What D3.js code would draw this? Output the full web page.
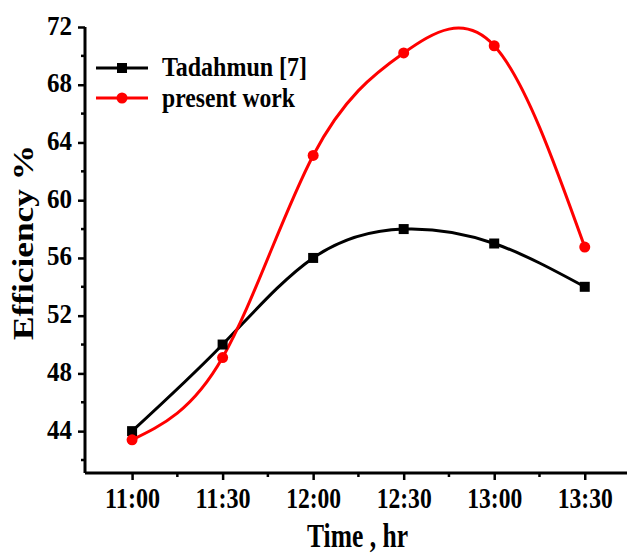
<!DOCTYPE html>
<html>
<head>
<meta charset="utf-8">
<script src="https://cdn.jsdelivr.net/npm/d3@7"></script>
<style>
  body { margin: 0; background: #fff; }
  svg text { font-family: "Liberation Serif", "Times New Roman", serif; font-weight: bold; }
</style>
</head>
<body>
<svg id="chart" width="627" height="555"></svg>
<script>
// minutes after 11:00
const times = [0, 30, 60, 90, 120, 150];
const timeLabels = ['11:00', '11:30', '12:00', '12:30', '13:00', '13:30'];
const tadahmun = [44, 50, 56, 58, 57, 54];
const presentWork = [43.4, 49.1, 63.1, 70.2, 70.7, 56.75];
const yTicks = [44, 48, 52, 56, 60, 64, 68, 72];
const yMinor = [42, 46, 50, 54, 58, 62, 66, 70];
const xMinor = [15, 45, 75, 105, 135];

const svg = d3.select('#chart');

const x = d3.scaleLinear().domain([-15.6, 164]).range([85, 627]);
const y = d3.scaleLinear().domain([41.1, 72]).range([473, 27]);

// axes
const xAxis = d3.axisBottom(x)
  .tickValues(times)
  .tickFormat((d, i) => timeLabels[i])
  .tickSize(7);
const yAxis = d3.axisLeft(y)
  .tickValues(yTicks)
  .tickSize(7);

const gx = svg.append('g').attr('transform', 'translate(0,473)').call(xAxis);
const gy = svg.append('g').attr('transform', 'translate(85,0)').call(yAxis);

[gx, gy].forEach((g) => {
  g.select('.domain').attr('stroke', '#000').attr('stroke-width', 3);
  g.selectAll('.tick line').attr('stroke', '#000').attr('stroke-width', 2.5);
  g.selectAll('.tick text')
    .attr('fill', '#000')
    .style('font-family', '"Liberation Serif", serif')
    .style('font-weight', 'bold');
});
gx.select('.domain').attr('d', 'M85,0H627');
gy.select('.domain').attr('d', 'M0,' + y(72) + 'V473');

// narrow, tall tick labels
gx.selectAll('.tick text')
  .style('font-size', '30px')
  .attr('y', 35).attr('dy', 0)
  .attr('textLength', 55).attr('lengthAdjust', 'spacingAndGlyphs');
gy.selectAll('.tick text')
  .style('font-size', '28px')
  .attr('x', -13).attr('dy', 7)
  .attr('textLength', 25).attr('lengthAdjust', 'spacingAndGlyphs');

// minor ticks
svg.append('g').selectAll('line').data(xMinor).enter().append('line')
  .attr('x1', (d) => x(d)).attr('x2', (d) => x(d))
  .attr('y1', 473).attr('y2', 477)
  .attr('stroke', '#000').attr('stroke-width', 2.5);
svg.append('g').selectAll('line').data(yMinor).enter().append('line')
  .attr('x1', 81).attr('x2', 85)
  .attr('y1', (d) => y(d)).attr('y2', (d) => y(d))
  .attr('stroke', '#000').attr('stroke-width', 2.5);

// axis titles
svg.append('text')
  .attr('x', 307).attr('y', 547)
  .style('font-size', '33px')
  .attr('textLength', 101).attr('lengthAdjust', 'spacingAndGlyphs')
  .text('Time , hr');
svg.append('text')
  .attr('transform', 'translate(33,340) rotate(-90)')
  .style('font-size', '30px')
  .attr('textLength', 195).attr('lengthAdjust', 'spacingAndGlyphs')
  .text('Efficiency %');

// series
const line = (vals) => d3.line()
  .x((d, i) => x(times[i]))
  .y((d) => y(d))
  .curve(d3.curveNatural)(vals);

svg.append('path')
  .attr('d', line(tadahmun))
  .attr('fill', 'none').attr('stroke', '#000').attr('stroke-width', 3);
svg.append('path')
  .attr('d', line(presentWork))
  .attr('fill', 'none').attr('stroke', '#ff0000').attr('stroke-width', 3);

svg.append('g').selectAll('rect').data(tadahmun).enter().append('rect')
  .attr('x', (d, i) => x(times[i]) - 5)
  .attr('y', (d) => y(d) - 5)
  .attr('width', 10).attr('height', 10)
  .attr('fill', '#000');
svg.append('g').selectAll('circle').data(presentWork).enter().append('circle')
  .attr('cx', (d, i) => x(times[i]))
  .attr('cy', (d) => y(d))
  .attr('r', 5.5)
  .attr('fill', '#ff0000');

// legend
const legend = svg.append('g');
legend.append('line').attr('x1', 96).attr('x2', 148).attr('y1', 68).attr('y2', 68)
  .attr('stroke', '#000').attr('stroke-width', 3);
legend.append('rect').attr('x', 117).attr('y', 63).attr('width', 10).attr('height', 10).attr('fill', '#000');
legend.append('text').attr('x', 162).attr('y', 76).style('font-size', '28px')
  .attr('textLength', 145).attr('lengthAdjust', 'spacingAndGlyphs')
  .text('Tadahmun [7]');
legend.append('line').attr('x1', 96).attr('x2', 148).attr('y1', 98).attr('y2', 98)
  .attr('stroke', '#ff0000').attr('stroke-width', 3);
legend.append('circle').attr('cx', 122).attr('cy', 98).attr('r', 5.5).attr('fill', '#ff0000');
legend.append('text').attr('x', 162).attr('y', 107).style('font-size', '28px')
  .attr('textLength', 133).attr('lengthAdjust', 'spacingAndGlyphs')
  .text('present work');
</script>
</body>
</html>
